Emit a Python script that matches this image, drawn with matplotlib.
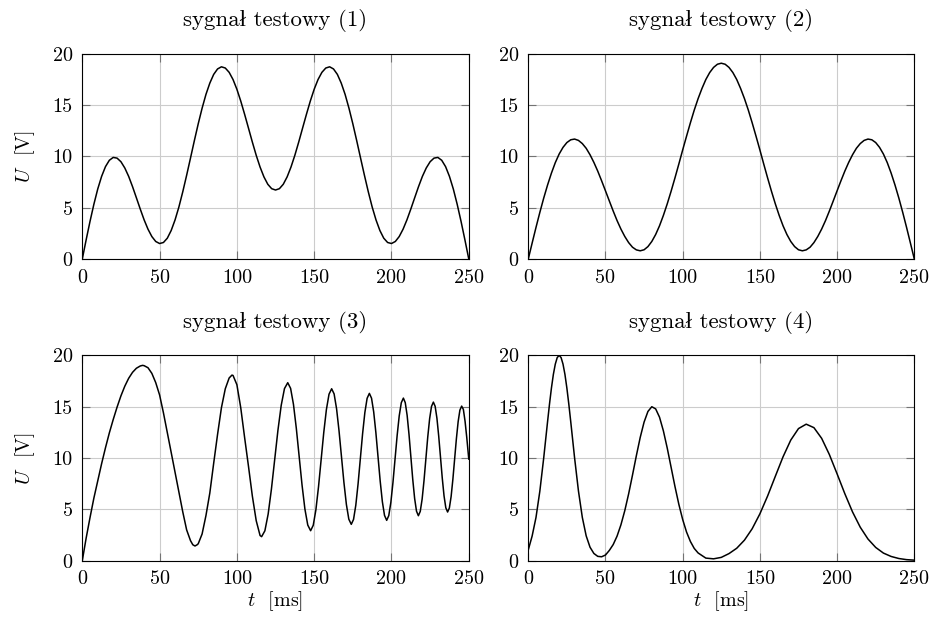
import numpy as np
import matplotlib
matplotlib.use("Agg")
import matplotlib.pyplot as plt

plt.rcParams["font.family"] = ["cmr10", "Liberation Serif"]
plt.rcParams["mathtext.fontset"] = "cm"
plt.rcParams["axes.unicode_minus"] = False

# values, t in ms, U in V
t_grid = np.linspace(0, 250, 101)  # 2.5 ms steps for signals 1 and 2

u1 = [0, 1.87, 3.67, 5.34, 6.83, 8.06, 9.01, 9.63, 9.91, 9.84, 9.49, 8.88, 8.06,
      7.06, 5.97, 4.87, 3.82, 2.91, 2.19, 1.71, 1.51, 1.61, 2.03, 2.78, 3.81,
      5.08, 6.56, 8.17, 9.85, 11.55, 13.19, 14.71, 16.06, 17.16, 18.01, 18.54,
      18.75, 18.63, 18.21, 17.51, 16.56, 15.41, 14.12, 12.77, 11.41, 10.12,
      8.97, 8.01, 7.29, 6.86, 6.73,
      6.86, 7.29, 8.01, 8.97, 10.12, 11.41, 12.77, 14.12, 15.41, 16.56, 17.51,
      18.21, 18.63, 18.75, 18.54, 18.01, 17.16, 16.06, 14.71, 13.19, 11.55,
      9.85, 8.17, 6.56, 5.08, 3.81, 2.78, 2.03, 1.61, 1.51, 1.71, 2.19, 2.91,
      3.82, 4.87, 5.97, 7.06, 8.06, 8.88, 9.49, 9.84, 9.91, 9.63, 9.01, 8.06,
      6.83, 5.34, 3.67, 1.87, 0]

u2 = [0, 1.55, 3.08, 4.55, 5.94, 7.22, 8.38, 9.40, 10.24, 10.89, 11.36, 11.63,
      11.70, 11.57, 11.26, 10.80, 10.17, 9.42, 8.57, 7.63, 6.65, 5.66, 4.68,
      3.75, 2.92, 2.20, 1.60, 1.15, 0.89, 0.80, 0.90, 1.21, 1.71, 2.39, 3.24,
      4.25, 5.38, 6.61, 7.91, 9.26, 10.64, 11.98, 13.29, 14.53, 15.65, 16.64,
      17.51, 18.19, 18.69, 19.0, 19.1,
      19.0, 18.69, 18.19, 17.51, 16.64, 15.65, 14.53, 13.29, 11.98, 10.64,
      9.26, 7.91, 6.61, 5.38, 4.25, 3.24, 2.39, 1.71, 1.21, 0.90, 0.80, 0.89,
      1.15, 1.60, 2.20, 2.92, 3.75, 4.68, 5.66, 6.65, 7.63, 8.57, 9.42, 10.17,
      10.80, 11.26, 11.57, 11.70, 11.63, 11.36, 10.89, 10.24, 9.40, 8.38, 7.22,
      5.94, 4.55, 3.08, 1.55, 0]

t3 = [0, 2.5, 5, 7.5, 10, 12.5, 15, 17.5, 20, 22.5, 25, 27.5, 30, 32.5, 35, 37.5,
      39, 40, 42.5, 45, 47.5, 50, 52.5, 55, 57.5, 60, 62.5, 65, 67.5, 70, 71.5,
      72.9, 74.3, 75, 77.5, 80, 82.5, 85, 87.5, 90, 92.5, 95, 96.8, 97.5, 100,
      102.5, 105, 107.5, 110, 112.5, 115, 116,
      118.11, 120.23, 122.34, 124.45, 126.56, 128.68, 130.79, 132.9,
      134.75, 136.6, 138.45, 140.3, 142.15, 144.0, 145.85, 147.7,
      149.4, 151.1, 152.8, 154.5, 156.2, 157.9, 159.6, 161.3,
      162.89, 164.48, 166.06, 167.65, 169.24, 170.83, 172.41, 174.0,
      175.46, 176.93, 178.39, 179.85, 181.31, 182.78, 184.24, 185.7,
      187.1, 188.5, 189.9, 191.3, 192.7, 194.1, 195.5, 196.9,
      198.25, 199.6, 200.95, 202.3, 203.65, 205.0, 206.35, 207.7,
      208.91, 210.13, 211.34, 212.55, 213.76, 214.98, 216.19, 217.4,
      218.61, 219.83, 221.04, 222.25, 223.46, 224.68, 225.89, 227.1,
      228.25, 229.4, 230.55, 231.7, 232.85, 234.0, 235.15, 236.3,
      237.44, 238.58, 239.71, 240.85, 241.99, 243.13, 244.26, 245.4,
      246.5, 247.6, 248.7, 250]
u3 = [0, 2.2, 4.2, 6.1, 7.8, 9.45, 11.0, 12.45, 13.75, 14.96, 16.06, 17.0,
      17.77, 18.35, 18.75, 18.97, 19.03, 19.0, 18.8, 18.25, 17.35, 16.15, 14.4,
      12.5, 10.55, 8.6, 6.65, 4.75, 3.0, 1.95, 1.55,
      1.43, 1.55, 1.65, 2.6, 4.4, 6.6, 9.5, 12.3, 14.9, 16.75, 17.8, 18.08,
      18.05, 17.15, 14.9, 12.0, 9.2, 6.3, 3.9, 2.45, 2.34,
      2.91, 4.54, 6.97, 9.84, 12.71, 15.14, 16.77, 17.34,
      16.79, 15.23, 12.89, 10.13, 7.37, 5.03, 3.47, 2.92,
      3.45, 4.95, 7.19, 9.84, 12.49, 14.72, 16.22, 16.75,
      16.25, 14.81, 12.67, 10.15, 7.62, 5.48, 4.04, 3.54,
      4.02, 5.41, 7.48, 9.92, 12.36, 14.43, 15.82, 16.30,
      15.83, 14.49, 12.49, 10.12, 7.75, 5.75, 4.41, 3.93,
      4.39, 5.68, 7.61, 9.89, 12.17, 14.10, 15.39, 15.84,
      15.40, 14.16, 12.30, 10.11, 7.92, 6.06, 4.82, 4.38,
      4.80, 6.00, 7.80, 9.92, 12.04, 13.83, 15.03, 15.45,
      15.04, 13.88, 12.14, 10.10, 8.05, 6.31, 5.15, 4.74,
      5.13, 6.25, 7.92, 9.90, 11.88, 13.55, 14.67, 15.06,
      14.74, 13.58, 12.0, 9.9]

t4 = [0, 2.5, 5, 7.5, 10, 12.5, 13.75, 15, 16.25, 17.5, 18.75, 20, 21.25, 22.5,
      23.75, 25, 26.25, 27.5, 30, 32.5, 35, 37.5,
      40, 42.5, 45, 47.5, 50, 52.5, 55, 57.5, 60, 62.5, 65, 67.5, 70, 72.5, 75,
      77.5, 80, 82.5, 85, 87.5, 90, 92.5, 95, 97.5, 100, 102.5, 105, 107.5, 110,
      115, 120, 125, 130, 135, 140, 145, 150, 155, 160, 165, 170, 175, 180, 185,
      190, 195, 200, 205, 210, 215, 220, 225, 230, 235, 240, 245, 250]
u4 = [1.05, 2.40, 4.21, 6.78, 10.01, 13.55, 15.26, 16.82, 18.15, 19.15, 19.79,
      20.0, 19.79, 19.15, 18.15, 16.82, 15.26, 13.55, 10.01, 6.79, 4.22, 2.42,
      1.31, 0.70, 0.42, 0.38, 0.55, 1.0, 1.57,
      2.39, 3.49, 4.87, 6.51, 8.34, 10.23, 12.01, 13.50, 14.54, 15.0, 14.79,
      13.98, 12.65, 10.97, 9.10, 7.23, 5.50, 4.01, 2.79, 1.87, 1.19, 0.75, 0.25,
      0.18, 0.32, 0.69, 1.21, 2.00, 3.11, 4.56, 6.30, 8.22, 10.12, 11.75, 12.87,
      13.3, 12.96, 11.92, 10.34, 8.46, 6.53, 4.75, 3.26, 2.11, 1.29, 0.74, 0.41,
      0.21, 0.10, 0.05]

titles = ["sygnał testowy (1)", "sygnał testowy (2)",
          "sygnał testowy (3)", "sygnał testowy (4)"]
series = [(t_grid, u1), (t_grid, u2), (t3, u3), (t4, u4)]

xticks = [0, 50, 100, 150, 200, 250]
yticks = [0, 5, 10, 15, 20]

# axes boxes in figure fractions (left, bottom, width, height)
boxes = [[0.0881, 0.5836, 0.4138, 0.3296],
         [0.5656, 0.5836, 0.4133, 0.3296],
         [0.0881, 0.0986, 0.4138, 0.3300],
         [0.5656, 0.0986, 0.4133, 0.3300]]

fs = 14.5
fig = plt.figure(figsize=(9.34, 6.22), dpi=100)

for i in range(4):
    ax = fig.add_axes(boxes[i])
    t, u = series[i]
    ax.plot(t, u, color="black", lw=1.1)
    ax.set_xlim(0, 250)
    ax.set_ylim(0, 20)
    ax.set_xticks(xticks)
    ax.set_yticks(yticks)
    ax.grid(True, color="0.8", lw=0.8)
    ax.set_axisbelow(True)
    ax.tick_params(direction="in", length=5.8, width=0.8, color="0.45",
                   top=True, right=True, labelsize=fs, pad=7)
    for s in ax.spines.values():
        s.set_linewidth(0.8)
        s.set_color("black")
    ax.set_title(titles[i], fontsize=16.5, pad=20)
    if i % 2 == 0:
        ax.set_ylabel("$U$  [V]", fontsize=fs, labelpad=11)
    if i >= 2:
        ax.set_xlabel("$t$  [ms]", fontsize=fs, labelpad=1)

fig.savefig("out.png", dpi=100)
